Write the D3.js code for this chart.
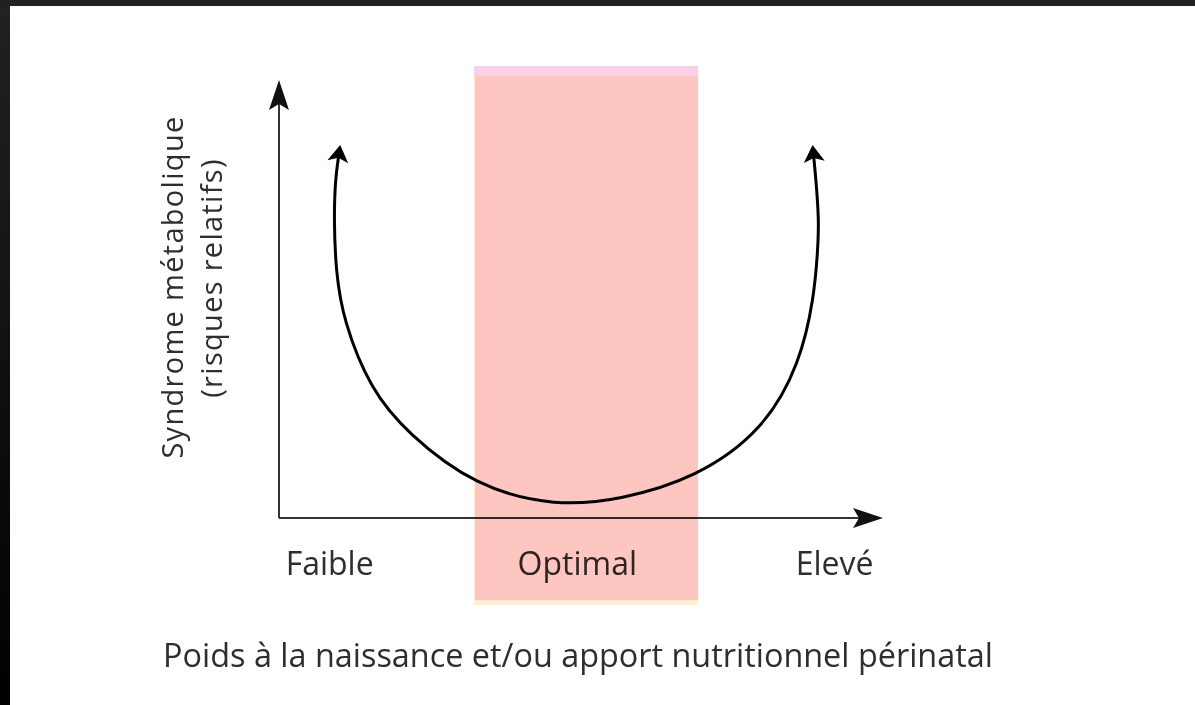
<!DOCTYPE html>
<html>
<head>
<meta charset="utf-8">
<script src="https://cdn.jsdelivr.net/npm/d3@7"></script>
<style>
	html, body { margin: 0; padding: 0; background: #000; }
	svg { display: block; }
	text { font-family: "Open Sans", "Noto Sans", sans-serif; fill: #2e2e2e; }
</style>
</head>
<body>
<div id="chart"></div>
<script>

// courbe en U (unités arbitraires, 0-100 sur chaque axe)
var curveX = [9.9, 9.3, 9.1, 9.4, 10.6, 15.2, 21.2, 32.5, 46.0, 56.6, 69.0, 80.3, 86.3, 88.6, 89.2, 89.4, 88.9, 88.5];
var curveY = [82.9, 77.2, 68.0, 56.6, 45.2, 29.2, 19.4, 7.1, 2.6, 4.2, 9.1, 20.1, 35.4, 50.5, 61.2, 68.0, 77.2, 82.9];

// zone optimale
var bandRange = [32.3, 69.4];

// libellés de l'axe horizontal
var categories = ["Faible", "Optimal", "Elevé"];
var categoryPos = [8.3, 49.3, 91.9];

var yTitle = ["Syndrome métabolique", "(risques relatifs)"];
var xTitle = "Poids à la naissance et/ou apport nutritionnel périnatal";


var W = 1195, H = 705;

var svg = d3.select("#chart").append("svg")
	.attr("width", W)
	.attr("height", H);

var defs = svg.append("defs");

// cadre sombre
var grad = defs.append("linearGradient")
	.attr("id", "frameGrad")
	.attr("x1", 0).attr("y1", 0).attr("x2", 0).attr("y2", 1);
grad.append("stop").attr("offset", "0%").attr("stop-color", "#222");
grad.append("stop").attr("offset", "100%").attr("stop-color", "#000");

svg.append("rect")
	.attr("width", W).attr("height", H)
	.style("fill", "url(#frameGrad)");
svg.append("rect")
	.attr("y", 0).attr("width", W).attr("height", 6)
	.style("fill", "#212121");
svg.append("rect")
	.attr("x", 10).attr("y", 6)
	.attr("width", W - 10).attr("height", H - 6)
	.style("fill", "#fff");

// fleches
defs.append("marker")
	.attr("id", "axisHead")
	.attr("markerUnits", "userSpaceOnUse")
	.attr("viewBox", "-10 -12 34 24")
	.attr("markerWidth", 34).attr("markerHeight", 24)
	.attr("refX", 0).attr("refY", 0)
	.attr("orient", "auto")
	.append("path")
	.attr("d", "M22,0 L-8,-10 L-2,0 L-8,10 Z")
	.style("fill", "#111");

defs.append("marker")
	.attr("id", "curveHead")
	.attr("markerUnits", "userSpaceOnUse")
	.attr("viewBox", "-10 -12 24 24")
	.attr("markerWidth", 24).attr("markerHeight", 24)
	.attr("refX", 0).attr("refY", 0)
	.attr("orient", "auto-start-reverse")
	.append("path")
	.attr("d", "M10,0 L-7,-10.5 L-3,0 L-7,10.5 Z")
	.style("fill", "#000");

var x = d3.scaleLinear().domain([0, 100]).range([279, 883]);
var y = d3.scaleLinear().domain([0, 100]).range([518, 80]);

// axes
svg.append("line")
	.attr("x1", x(0)).attr("y1", y(0))
	.attr("x2", x(0)).attr("y2", y(100) + 22)
	.style("stroke", "#333")
	.style("stroke-width", 2)
	.attr("marker-end", "url(#axisHead)");

svg.append("line")
	.attr("x1", x(0)).attr("y1", y(0))
	.attr("x2", x(100) - 22).attr("y2", y(0))
	.style("stroke", "#333")
	.style("stroke-width", 2)
	.attr("marker-end", "url(#axisHead)");

// courbe
var pts = curveX.map(function(d, i) { return [d, curveY[i]]; });
var line = d3.line()
	.x(function(d) { return x(d[0]); })
	.y(function(d) { return y(d[1]); })
	.curve(d3.curveBasis);

svg.append("path")
	.attr("d", line(pts))
	.style("fill", "none")
	.style("stroke", "#000")
	.style("stroke-width", 3)
	.attr("marker-start", "url(#curveHead)")
	.attr("marker-end", "url(#curveHead)");

// libellés
var xAxis = d3.axisBottom(x)
	.tickValues(categoryPos)
	.tickFormat(function(d, i) { return categories[i]; })
	.tickSize(0)
	.tickPadding(34);

var gx = svg.append("g")
	.attr("transform", "translate(0," + y(0) + ")")
	.call(xAxis);
gx.select(".domain").remove();
gx.selectAll("text")
	.style("font-family", "'Open Sans', sans-serif")
	.style("font-size", "32px")
	.style("fill", "#2e2e2e");

svg.append("text")
	.attr("x", 578)
	.attr("y", 667)
	.style("text-anchor", "middle")
	.style("font-size", "32.4px")
	.text(xTitle);

svg.selectAll("text.ytitle")
	.data(yTitle)
	.enter().append("text")
	.attr("class", "ytitle")
	.attr("transform", function(d, i) {
		return "translate(" + (183 + i * 39) + "," + (i == 0 ? 287 : 278) + ") rotate(-90)";
	})
	.style("text-anchor", "middle")
	.style("font-size", "29px")
	.style("letter-spacing", "1.3px")
	.text(function(d) { return d; });

// zone optimale (multiply par-dessus)
var band = svg.append("g").style("mix-blend-mode", "multiply");
band.append("rect")
	.attr("x", x(bandRange[0])).attr("y", 66)
	.attr("width", x(bandRange[1]) - x(bandRange[0])).attr("height", 10)
	.style("fill", "#fcd0e6");
band.append("rect")
	.attr("x", x(bandRange[0])).attr("y", 600)
	.attr("width", x(bandRange[1]) - x(bandRange[0])).attr("height", 5)
	.style("fill", "#fdf0d2");
band.append("rect")
	.attr("x", x(bandRange[0])).attr("y", 76)
	.attr("width", x(bandRange[1]) - x(bandRange[0])).attr("height", 524)
	.style("fill", "#fdc6c0");
band.append("rect")
	.attr("x", x(bandRange[0])).attr("y", 76)
	.attr("width", 1).attr("height", 524)
	.style("fill", "#fdeccc");

</script>
</body>
</html>
